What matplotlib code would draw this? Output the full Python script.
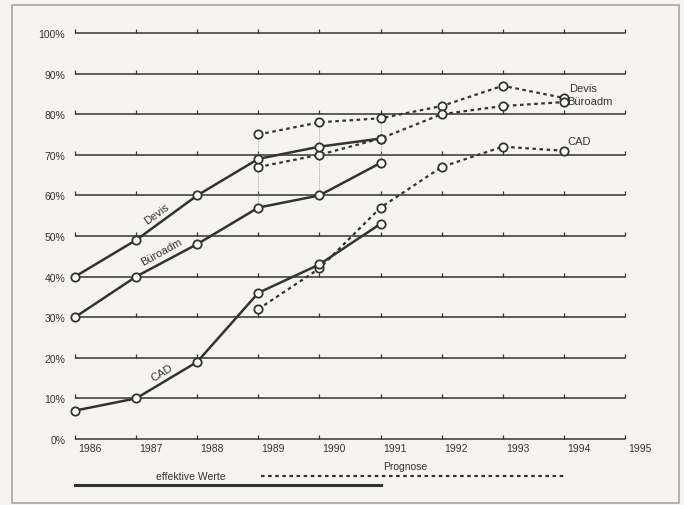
import matplotlib.pyplot as plt
import matplotlib.transforms as mtransforms
from matplotlib.patches import Rectangle

# data (share of companies, %)
years = [1986, 1987, 1988, 1989, 1990, 1991, 1992, 1993, 1994, 1995]
eff_years = [1986, 1987, 1988, 1989, 1990, 1991]
devis_eff = [40, 49, 60, 69, 72, 74]
buero_eff = [30, 40, 48, 57, 60, 68]
cad_eff = [7, 10, 19, 36, 43, 53]

prog_years = [1989, 1990, 1991, 1992, 1993, 1994]
devis_prog = [75, 78, 79, 82, 87, 84]
buero_prog = [67, 70, 74, 80, 82, 83]
cad_prog = [32, 42, 57, 67, 72, 71]

y_levels = [0, 10, 20, 30, 40, 50, 60, 70, 80, 90, 100]

INK = '#333333'
PAPER = '#f6f4f0'
FONT = ['Liberation Sans Narrow', 'Liberation Sans', 'DejaVu Sans']
plt.rcParams['font.family'] = FONT

fig = plt.figure(figsize=(6.84, 5.06), dpi=100)
fig.patch.set_facecolor(PAPER)

# outer frame of the scanned figure
fig.patches.append(Rectangle((12 / 684, 0.004), 667 / 684, 0.984,
                             transform=fig.transFigure, fill=False,
                             edgecolor='#a8a8a8', lw=1.2))

ax = fig.add_axes([75 / 684, 66 / 506, 550 / 684, 406 / 506])
ax.set_facecolor('none')
ax.set_xlim(1986, 1995)
ax.set_ylim(0, 100)
for s in ax.spines.values():
    s.set_visible(False)

# horizontal rules with small year ticks
for lvl in y_levels:
    ax.hlines(lvl, years[0], years[-1], color=INK, lw=1.1, zorder=1, clip_on=False)
    ax.vlines(years, lvl, lvl + 1.0, color=INK, lw=0.9, zorder=1, clip_on=False)

# thin connector lines between actual and forecast
for yr, lo, hi in [(1989, buero_eff[3], devis_prog[0]),
                   (1990, buero_eff[4], devis_prog[1]),
                   (1991, buero_eff[5], devis_prog[2])]:
    ax.vlines(yr, lo, hi, color='#9a9a9a', lw=0.6, linestyles=(0, (1, 1)), zorder=2)

mk = dict(marker='o', markersize=6, markerfacecolor='white',
          markeredgecolor=INK, markeredgewidth=1.3, clip_on=False)

for vals in [devis_prog, buero_prog, cad_prog]:
    ax.plot(prog_years, vals, color=INK, lw=1.6, linestyle=(0, (1.6, 1.6)), zorder=3, **mk)
for vals in [devis_eff, buero_eff, cad_eff]:
    ax.plot(eff_years, vals, color=INK, lw=1.8, zorder=4, **mk)

# inline series labels
ax.text(1987.34, 55.6, 'Devis', rotation=36, fontsize=8, color=INK, ha='center', va='center')
ax.text(1987.42, 46.2, 'Büroadm', rotation=29, fontsize=8, color=INK, ha='center', va='center')
ax.text(1987.42, 16.4, 'CAD', rotation=31, fontsize=8, color=INK, ha='center', va='center')
ax.text(1994.08, 86.5, 'Devis', fontsize=8, color=INK, ha='left', va='center')
ax.text(1994.05, 83.2, 'Büroadm', fontsize=8, color=INK, ha='left', va='center')
ax.text(1994.05, 73.3, 'CAD', fontsize=8, color=INK, ha='left', va='center')

# axis labels
ax.set_yticks(y_levels)
ax.set_yticklabels([f'{v}%' for v in y_levels], fontsize=7.5, color=INK)
ax.tick_params(axis='y', length=0, pad=7)
ax.set_xticks(years)
ax.set_xticklabels([str(y) for y in years], fontsize=7.5, color=INK, ha='left')
ax.tick_params(axis='x', length=0, pad=3)
shift = mtransforms.ScaledTranslation(3 / 100, 0, fig.dpi_scale_trans)
for lab in ax.get_xticklabels():
    lab.set_transform(lab.get_transform() + shift)

# legend strip under the axis
ax.plot([1986, 1991], [-11.3, -11.3], color=INK, lw=2.2, clip_on=False)
ax.plot([1989.05, 1994.0], [-9.1, -9.1], color=INK, lw=1.6, linestyle=(0, (1.6, 1.6)), clip_on=False)
ax.text(1987.9, -9.0, 'effektive Werte', fontsize=7.5, color=INK, ha='center', va='center')
ax.text(1991.4, -6.6, 'Prognose', fontsize=7.5, color=INK, ha='center', va='center')

fig.savefig('out.png', dpi=100, facecolor=fig.get_facecolor())
